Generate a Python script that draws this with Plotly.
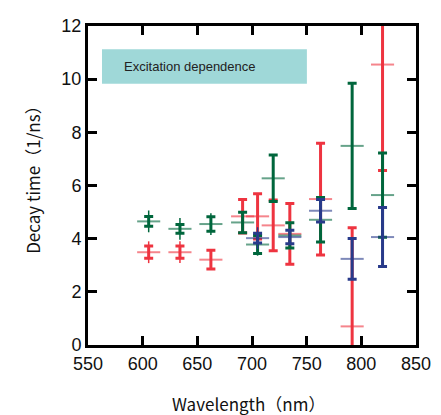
import plotly.graph_objects as go

# ---- data ----
green_x = [605.5, 634.1, 662.4, 691.4, 705.1, 719.4, 734.6, 762.7, 791.6, 819.4]
green_y = [4.65, 4.37, 4.55, 4.61, 3.78, 6.27, 4.12, 4.71, 7.49, 5.64]
green_err = [0.18, 0.165, 0.27, 0.385, 0.335, 0.875, 0.475, 0.84, 2.355, 1.585]
green_err_thin = [0.41, 0.41, 0.41, 0, 0.42, 0, 0, 0, 0, 0]

red_x = [605.5, 634.1, 662.4, 691.4, 705.1, 719.4, 734.6, 762.7, 791.6, 819.4]
red_y = [3.49, 3.49, 3.21, 4.84, 4.84, 4.50, 4.18, 5.49, 0.70, 10.55]
red_err = [0.23, 0.23, 0.35, 0.63, 0.85, 0.955, 1.145, 2.10, 3.71, 3.99]
red_err_thin = [0.41, 0.41, 0, 0, 0, 0, 0, 0, 0, 0]

blue_x = [705.1, 734.6, 762.7, 791.6, 819.4]
blue_y = [4.02, 4.06, 5.05, 3.24, 4.06]
blue_err = [0.185, 0.255, 0.42, 0.765, 1.11]
blue_err_thin = [0.41, 0, 0, 0, 0]

x_ticks = [550, 600, 650, 700, 750, 800, 850]
y_ticks = [0, 2, 4, 6, 8, 10, 12]

GREEN = "#00663c"
RED = "#ee3440"
BLUE = "#283a8a"
GREEN_L = "rgba(0,102,60,0.6)"
RED_L = "rgba(238,52,64,0.6)"
BLUE_L = "rgba(40,58,138,0.6)"

fig = go.Figure()


def add_series(x, y, err, err_thin, col, col_l):
    fig.add_trace(go.Scatter(
        x=x, y=y, mode="markers",
        marker=dict(size=1, color="rgba(0,0,0,0)"),
        error_y=dict(type="data", array=err_thin, thickness=1.5, width=0, color=col),
        hoverinfo="skip", showlegend=False))
    fig.add_trace(go.Scatter(
        x=x, y=y, mode="markers",
        marker=dict(symbol="line-ew", size=16.5, color=col_l,
                    line=dict(width=2, color=col_l)),
        error_y=dict(type="data", array=err, thickness=3, width=4.5, color=col),
        showlegend=False))


add_series(red_x, red_y, red_err, red_err_thin, RED, RED_L)
add_series(green_x, green_y, green_err, green_err_thin, GREEN, GREEN_L)
add_series(blue_x, blue_y, blue_err, blue_err_thin, BLUE, BLUE_L)

# label box
fig.add_shape(type="rect", x0=562.8, x1=750.2, y0=9.83, y1=11.13,
              fillcolor="#9fd8d8", line=dict(width=0), layer="below")
fig.add_annotation(x=580.8, y=10.47, text="Excitation dependence", showarrow=False,
                   xanchor="left", yanchor="middle",
                   font=dict(family="Liberation Sans, Arial", size=13, color="#222222"))

# axis titles
fig.add_annotation(xref="paper", yref="paper", x=0.488, y=-0.182, text="Wavelength（nm）",
                   showarrow=False, xanchor="center", yanchor="middle",
                   font=dict(family="Noto Sans CJK JP", size=17, color="#111111"))
fig.add_annotation(xref="paper", yref="paper", x=-0.169, y=0.532, text="Decay time（1/ns）",
                   showarrow=False, xanchor="center", yanchor="middle", textangle=-90,
                   font=dict(family="Noto Sans CJK JP", size=17, color="#111111"))

axis_common = dict(showline=True, linewidth=3, linecolor="black", mirror="ticks",
                   ticks="inside", ticklen=9, tickwidth=3, tickcolor="black",
                   showgrid=False, zeroline=False,
                   tickfont=dict(family="Liberation Sans, Arial", size=18, color="#111111"))

fig.update_xaxes(range=[550, 850], tickvals=x_ticks, ticktext=[str(v) for v in x_ticks],
                 **axis_common)
fig.update_yaxes(range=[0, 12], tickvals=y_ticks, ticktext=[str(v) for v in y_ticks],
                 **axis_common)

# page body has an 8px margin; size the figure so the plot lands where the reference has it
fig.update_layout(width=433, height=407, margin=dict(l=80, r=25, t=8, b=70),
                  plot_bgcolor="white", paper_bgcolor="white")

fig.write_html("out.html")
